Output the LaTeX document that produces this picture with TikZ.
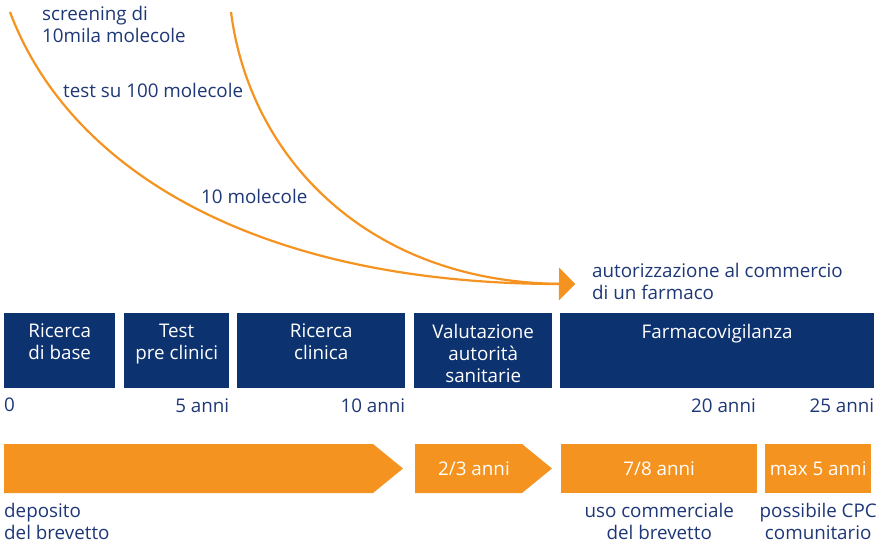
\documentclass[tikz,border=0pt]{standalone}
\usepackage{fontspec}
\setmainfont{Open Sans}
\usetikzlibrary{arrows.meta,positioning,calc}
\definecolor{navy}{RGB}{13,50,112}
\definecolor{arancio}{RGB}{245,147,32}
\definecolor{testo}{RGB}{30,55,118}

\begin{document}
\begin{tikzpicture}[>=Stealth,x=1pt,y=-1pt,font=\fontsize{18.8}{22}\selectfont,
 fase/.style={fill=navy,draw=none,anchor=north west,inner sep=0pt,minimum height=75pt},
 fasetxt/.style={text=white,align=center,inner sep=0pt},
 anno/.style={text=testo,inner sep=0pt},
 blocco/.style={fill=arancio,draw=none},
 bianco/.style={text=white,inner sep=0pt},
 nota/.style={text=testo,align=left,inner sep=0pt},
 curva/.style={draw=arancio,line width=2.2pt,-{Triangle[length=16pt,width=32pt]}}]
\useasboundingbox (0,0) rectangle (882,545);
% fasi di sviluppo
\node[fase,minimum width=111pt] (rb) at (4,313) {};
\node[fase,minimum width=105pt] (tp) at (124,313) {};
\node[fase,minimum width=168pt] (rc) at (237,313) {};
\node[fase,minimum width=138pt] (va) at (414,313) {};
\node[fase,minimum width=314pt] (fv) at (560,313) {};
\node[fasetxt,below=11pt of rb.north] {Ricerca\\di base};
\node[fasetxt,below=11pt of tp.north] {Test\\pre clinici};
\node[fasetxt,below=11pt of rc.north] {Ricerca\\clinica};
\node[fasetxt,below=11pt of va.north] {Valutazione\\autorità\\sanitarie};
\node[fasetxt,below=11pt of fv.north] {Farmacovigilanza};
% anni
\node[anno,anchor=north west] (a0) at (4,398) {0};
\node[anno,below left=10pt and 0pt of tp.south east] (a5) {5 anni};
\node[anno,below left=10pt and 0pt of rc.south east] (a10) {10 anni};
\node[anno,anchor=north east] (a20) at (756,398) {20 anni};
\node[anno,below left=10pt and 0pt of fv.south east] (a25) {25 anni};
% brevetto
\fill[blocco] (4,444) -- (373,444) -- (403,468.5) -- (373,493) -- (4,493) -- cycle;
\fill[blocco] (415,444) -- (522,444) -- (552,468.5) -- (522,493) -- (415,493) -- cycle;
\node[blocco,anchor=north west,minimum width=196pt,minimum height=49pt,inner sep=0pt] (uc) at (561,444) {};
\node[blocco,anchor=north west,minimum width=106pt,minimum height=49pt,inner sep=0pt] (cpc) at (765,444) {};
\node[bianco] (b23) at (474,468.5) {2/3 anni};
\node[bianco] at (uc) {7/8 anni};
\node[bianco] at (cpc) {max 5 anni};
\node[nota,anchor=north west] (dep) at (4,503) {deposito\\del brevetto};
\node[nota,align=center,below=10pt of uc.south] {uso commerciale\\del brevetto};
\node[nota,align=center,below=10pt of cpc.south] {possibile CPC\\comunitario};
% molecole
\coordinate (s1) at (10,12);
\coordinate (s2) at (231,12);
\coordinate (tip) at (575,284);
\draw[curva] (s1) .. controls (70,172) and (260,284) .. (tip);
\draw[curva] (s2) .. controls (250,160) and (370,282) .. (tip);
\node[nota,anchor=north west] (scr) at (42,6) {screening di\\10mila molecole};
\node[nota,anchor=base west] (t100) at (63,98) {test su 100 molecole};
\node[nota,anchor=base west] (t10) at (201,204) {10 molecole};
\node[nota,anchor=north west] (aut) at (592,263) {autorizzazione al commercio\\di un farmaco};
\end{tikzpicture}
\end{document}
